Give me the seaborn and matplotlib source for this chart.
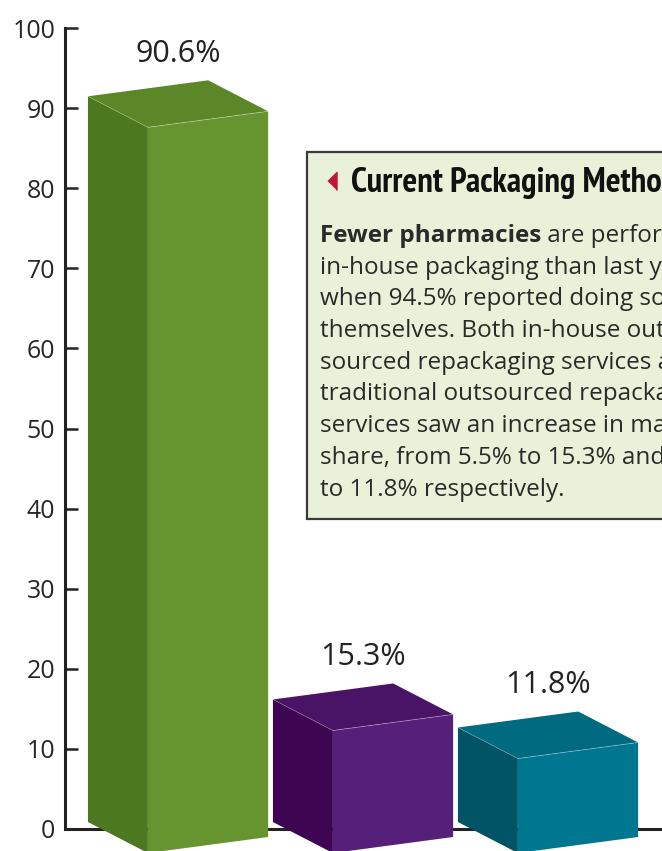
import matplotlib
matplotlib.use("Agg")
import matplotlib.pyplot as plt
from matplotlib import font_manager as fm
from matplotlib.patches import Polygon, Rectangle
from matplotlib.text import Annotation
import seaborn as sns

# data
methods = ["In-house packaging", "In-house outsourced repackaging", "Traditional outsourced repackaging"]
shares = [90.6, 15.3, 11.8]
labels = ["90.6%", "15.3%", "11.8%"]
yticks = [0, 10, 20, 30, 40, 50, 60, 70, 80, 90, 100]

front_cols = ["#66952f", "#561f7a", "#007790"]
side_cols = ["#4c7820", "#3d0552", "#005466"]
top_cols = ["#5b8728", "#4a1466", "#006a80"]

sns.set_style("white")
plt.rcParams["font.family"] = ["Open Sans", "DejaVu Sans"]

# pick a narrow bold face for the heading if one exists
title_size = 25
narrow = [f for f in fm.fontManager.ttflist
          if ("Narrow" in f.name or "Condensed" in f.name or "ondensed" in f.stretch)]
narrow.sort(key=lambda f: (0 if "Narrow" in f.name else 1,
                           0 if str(f.weight) in ("bold", "700", "800", "900") else 1))
if narrow:
    title_fp = fm.FontProperties(fname=narrow[0].fname, size=title_size)
else:
    title_fp = fm.FontProperties(family="DejaVu Sans", weight="bold", stretch="condensed",
                                 size=title_size)

W, H = 662, 851
fig = plt.figure(figsize=(W / 100, H / 100), dpi=100)


def fx(px):
    return px / W


def fy(py):
    return 1 - py / H


ax = fig.add_axes([fx(65), fy(829), fx(662 - 65), (829 - 28) / H])
sns.barplot(x=methods, y=shares, hue=methods, palette=front_cols, legend=False,
            width=0.65, ax=ax)
ax.set_ylim(0, 100)
ax.set_xlim(-0.773, 2.454)

# fake 3d boxes built on top of seaborn's bars
base = -2.0      # front face sits a little below the axis
slant = 2.0      # rise of the front face top edge, left to right
ddx, ddy = -0.324, 3.87   # depth offset going back-left

for i, p in enumerate(ax.patches):
    x0, w, h = p.get_x(), p.get_width(), p.get_height()
    p.set_visible(False)
    fl_b = (x0, base - slant / 2)
    fr_b = (x0 + w, base + slant / 2)
    fr_t = (x0 + w, base + h + slant / 2)
    fl_t = (x0, base + h - slant / 2)
    side = [fl_b, fl_t, (fl_t[0] + ddx, fl_t[1] + ddy), (fl_b[0] + ddx, fl_b[1] + ddy)]
    top = [fl_t, fr_t, (fr_t[0] + ddx, fr_t[1] + ddy), (fl_t[0] + ddx, fl_t[1] + ddy)]
    front = [fl_b, fr_b, fr_t, fl_t]
    for verts, c in [(side, side_cols[i]), (top, top_cols[i]), (front, front_cols[i])]:
        ax.add_patch(Polygon(verts, closed=True, facecolor=c, edgecolor="none",
                             clip_on=False, zorder=3))
    ax.plot([fl_t[0], fr_t[0]], [fl_t[1], fr_t[1]], color="white", lw=0.6,
            alpha=0.35, zorder=4, clip_on=False)
    ax.plot([fl_t[0], fl_t[0] + ddx], [fl_t[1], fl_t[1] + ddy], color="white",
            lw=0.5, alpha=0.25, zorder=4, clip_on=False)
    ax.annotate(labels[i], xy=(x0 + w / 2 + ddx / 2, fr_t[1] + ddy),
                xytext=(0, 8), textcoords="offset points", ha="center",
                va="bottom", fontsize=22, color="#222222", zorder=5,
                annotation_clip=False)

ax.set_yticks(yticks)
ax.set_xticks([])
ax.set_xlabel("")
ax.set_ylabel("")
ax.tick_params(axis="y", left=True, direction="in", length=9, width=1.8,
               color="#222222", labelsize=18, labelcolor="#262626", pad=7)
for s in ["top", "right"]:
    ax.spines[s].set_visible(False)
for s in ["left", "bottom"]:
    ax.spines[s].set_color("#222222")
    ax.spines[s].set_linewidth(2.2)
    ax.spines[s].set_zorder(1)

# text box
box = Rectangle((fx(307), fy(519)), fx(700 - 307), (519 - 152) / H,
                transform=fig.transFigure, facecolor="#e9f1d8",
                edgecolor="#3a3a3a", linewidth=1.6, zorder=10)
fig.add_artist(box)

fig.add_artist(plt.Line2D([fx(332)], [fy(181)], marker=[(-0.5, 0), (0.5, 1), (0.5, -1)],
                          markersize=13, color="#c0163c", transform=fig.transFigure,
                          zorder=11))
fig.text(fx(351), fy(192), "Current Packaging Methods", fontproperties=title_fp,
         fontweight="bold", color="#111111", va="baseline", zorder=11)

body_size = 17.5
body = [
    "in-house packaging than last year,",
    "when 94.5% reported doing so",
    "themselves. Both in-house out-",
    "sourced repackaging services and",
    "traditional outsourced repackaging",
    "services saw an increase in market",
    "share, from 5.5% to 15.3% and",
    "to 11.8% respectively.",
]
t0 = fig.text(fx(320), fy(242), "Fewer pharmacies", fontsize=body_size, fontweight="bold",
              color="#2a2a2a", va="baseline", zorder=11)
rest = Annotation(" are performing", xy=(1, 0), xycoords=t0, va="bottom", ha="left",
                  fontsize=body_size, color="#2a2a2a", annotation_clip=False)
rest.set_zorder(11)
fig.add_artist(rest)
for k, line in enumerate(body):
    fig.text(fx(320), fy(242 + 31.7 * (k + 1)), line, fontsize=body_size, color="#2a2a2a",
             va="baseline", zorder=11)

fig.savefig("out.png", dpi=100)
